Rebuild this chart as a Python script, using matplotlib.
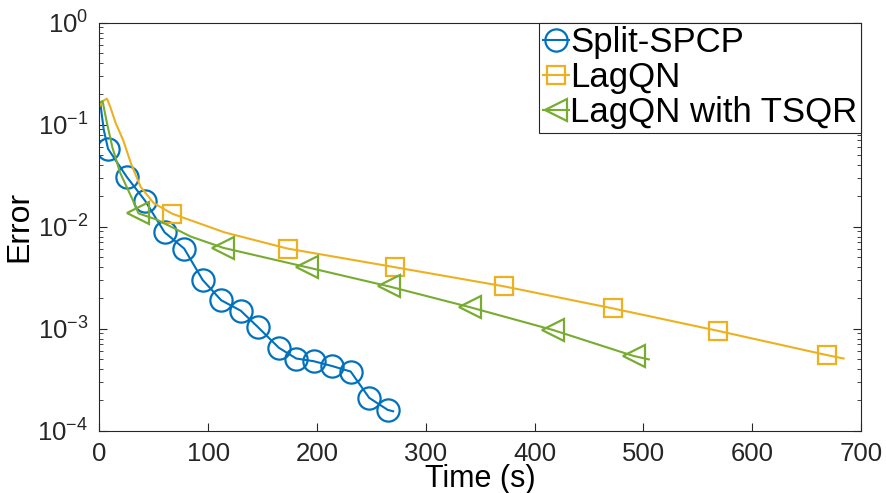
import matplotlib
matplotlib.use("Agg")
import matplotlib.pyplot as plt
import numpy as np

plt.rcParams['font.family'] = ['Liberation Sans', 'DejaVu Sans']
plt.rcParams['mathtext.fontset'] = 'custom'
plt.rcParams['mathtext.rm'] = 'Liberation Sans'

# Split-SPCP
split_t = [1, 4, 8, 25, 42, 60, 78, 95, 112, 130, 146, 165, 181, 197, 214, 231, 248, 265, 270]
split_e = [0.16, 0.09, 0.058, 0.031, 0.018, 0.0088, 0.0061, 0.0030, 0.0019, 0.0015, 0.00103,
           0.00065, 0.00051, 0.00048, 0.00043, 0.00038, 0.00021, 0.00016, 0.000155]
split_mk = list(range(2, 18))

# LagQN
lagqn_t = [0, 3, 7, 10, 15, 22, 29, 38, 50, 67, 115, 173, 272, 372, 472, 569, 669, 684]
lagqn_e = [0.15, 0.17, 0.18, 0.15, 0.104, 0.070, 0.042, 0.0245, 0.017, 0.0134, 0.0088,
           0.0061, 0.0040, 0.0026, 0.00158, 0.00095, 0.00055, 0.00051]
lagqn_mk = [9, 11, 12, 13, 14, 15, 16]

# LagQN with TSQR
tsqr_t = [0, 3, 7, 12, 19, 31, 36, 53, 84, 114, 191, 266, 341, 417, 491, 505]
tsqr_e = [0.165, 0.17, 0.104, 0.06, 0.034, 0.018, 0.0135, 0.0117, 0.0080, 0.0062, 0.0040,
          0.0026, 0.00162, 0.00097, 0.00054, 0.00050]
tsqr_mk = [6, 9, 10, 11, 12, 13, 14]

fig = plt.figure(figsize=(8.86, 4.93), dpi=100)
ax = fig.add_axes([0.1121, 0.1264, 0.9718 - 0.1121, 0.954 - 0.1264])

ax.semilogy(split_t, split_e, color='#0072BD', lw=1.5, marker='o', ms=16, mfc='none',
            mew=1.6, markevery=split_mk, label='Split-SPCP')
ax.semilogy(lagqn_t, lagqn_e, color='#EDB120', lw=1.5, marker='s', ms=13, mfc='none',
            mew=1.6, markevery=lagqn_mk, label='LagQN')
ax.semilogy(tsqr_t, tsqr_e, color='#77AC30', lw=1.5, marker='<', ms=16, mfc='none',
            mew=1.6, markevery=tsqr_mk, label='LagQN with TSQR')

ax.set_xlim(0, 700)
ax.set_ylim(1e-4, 1)
ax.set_xticks(np.arange(0, 701, 100))
ax.set_yticks([1e-4, 1e-3, 1e-2, 1e-1, 1])
ax.tick_params(which='both', direction='in', colors='#262626', labelsize=18.5,
               top=False, right=True)
ax.tick_params(which='major', length=6)
ax.tick_params(which='minor', length=3)
ax.tick_params(axis='x', which='major', pad=8)
ax.tick_params(axis='y', which='major', pad=8)
ax.tick_params(axis='x', which='minor', bottom=False, top=False)
for s in ax.spines.values():
    s.set_color('#262626')
    s.set_linewidth(0.8)

ax.set_xlabel('Time (s)', fontsize=22, labelpad=-1)
ax.set_ylabel('Error', fontsize=23, labelpad=2)

leg = ax.legend(loc='upper right', fontsize=25, handlelength=0.75, handletextpad=0.05,
                borderpad=0.1, borderaxespad=0, labelspacing=0.06, fancybox=False,
                framealpha=1)
leg.get_frame().set_edgecolor('#262626')
leg.get_frame().set_linewidth(0.8)

fig.savefig('out.png', dpi=100)
